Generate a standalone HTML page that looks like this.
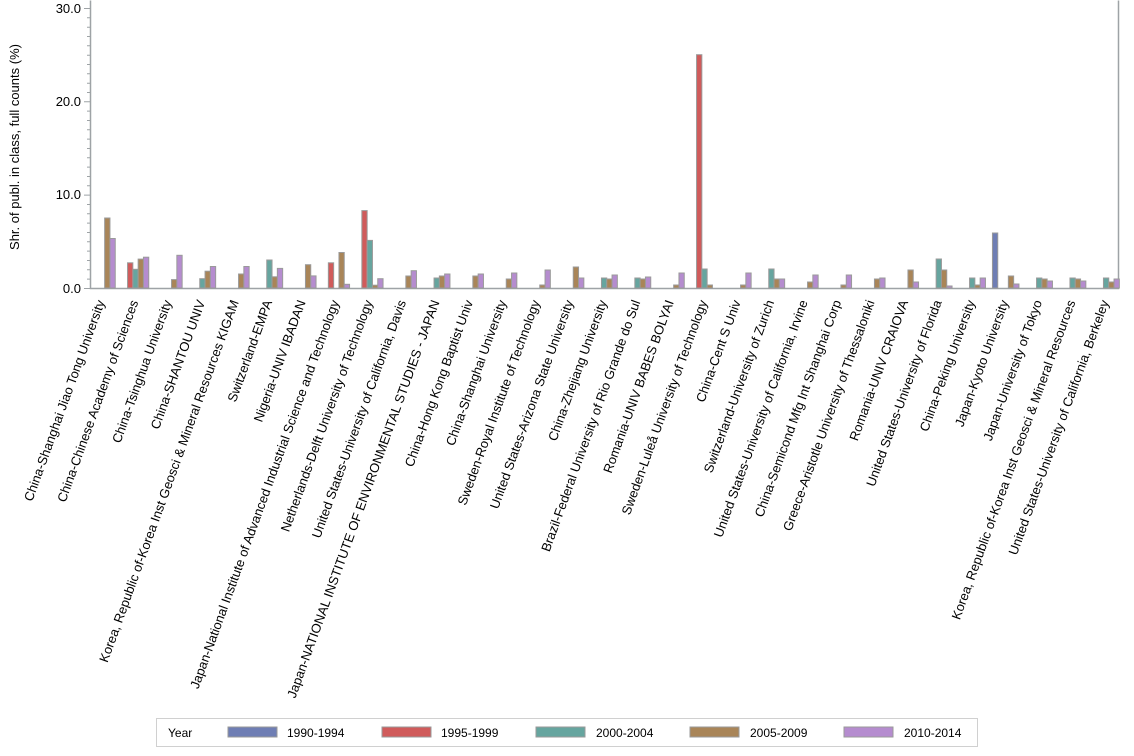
<!DOCTYPE html>
<html><head><meta charset="utf-8"><style>
body{margin:0;background:#fff;}
svg{display:block;font-family:"Liberation Sans",Arial,sans-serif;}
.b{fill:#6f7eb4}.r{fill:#d05b5b}.t{fill:#66a59f}.o{fill:#a98558}.p{fill:#b58ccf}
rect.b,rect.r,rect.t,rect.o,rect.p{stroke:#9a9a9a;stroke-width:1}
.l{font-size:13px;fill:#000;text-anchor:end}
</style></head><body>
<svg width="1134" height="756" viewBox="0 0 1134 756">
<rect x="0" y="0" width="1134" height="756" fill="#fff"/>
<path d="M90.5 0.5V288.5H1118.5V0.5" fill="none" stroke="#9ea3a6" stroke-width="1.5"/>
<g stroke="#9ea3a6" stroke-width="1">
<path d="M84 8.5H90M84 101.8H90M84 195.1H90M84 288.5H90"/>
<path d="M87 17.8H90M87 27.2H90M87 36.5H90M87 45.8H90M87 55.2H90M87 64.5H90M87 73.8H90M87 83.2H90M87 92.5H90M87 111.1H90M87 120.5H90M87 129.8H90M87 139.1H90M87 148.5H90M87 157.8H90M87 167.1H90M87 176.5H90M87 185.8H90M87 204.5H90M87 213.8H90M87 223.1H90M87 232.5H90M87 241.8H90M87 251.1H90M87 260.5H90M87 269.8H90M87 279.1H90"/>
</g>
<g font-size="13" text-anchor="end" fill="#000">
<text x="81" y="13">30.0</text><text x="81" y="106">20.0</text><text x="81" y="199">10.0</text><text x="81" y="293">0.0</text>
</g>
<text transform="translate(19,147) rotate(-90)" font-size="13" text-anchor="middle">Shr. of publ. in class, full counts (%)</text>

<g transform="translate(102,288)"><rect class="o" x="2.65" y="-70" width="5.3" height="70"/><rect class="p" x="7.95" y="-49.5" width="5.3" height="49.5"/></g>
<g transform="translate(135.5,288)"><rect class="r" x="-7.95" y="-25.2" width="5.3" height="25.2"/><rect class="t" x="-2.65" y="-18.7" width="5.3" height="18.7"/><rect class="o" x="2.65" y="-28.9" width="5.3" height="28.9"/><rect class="p" x="7.95" y="-30.8" width="5.3" height="30.8"/></g>
<g transform="translate(168.9,288)"><rect class="o" x="2.65" y="-8.4" width="5.3" height="8.4"/><rect class="p" x="7.95" y="-32.7" width="5.3" height="32.7"/></g>
<g transform="translate(202.4,288)"><rect class="t" x="-2.65" y="-9.3" width="5.3" height="9.3"/><rect class="o" x="2.65" y="-16.8" width="5.3" height="16.8"/><rect class="p" x="7.95" y="-21.5" width="5.3" height="21.5"/></g>
<g transform="translate(235.9,288)"><rect class="o" x="2.65" y="-14" width="5.3" height="14"/><rect class="p" x="7.95" y="-21.5" width="5.3" height="21.5"/></g>
<g transform="translate(269.4,288)"><rect class="t" x="-2.65" y="-28" width="5.3" height="28"/><rect class="o" x="2.65" y="-11.2" width="5.3" height="11.2"/><rect class="p" x="7.95" y="-19.6" width="5.3" height="19.6"/></g>
<g transform="translate(302.8,288)"><rect class="o" x="2.65" y="-23.3" width="5.3" height="23.3"/><rect class="p" x="7.95" y="-12.1" width="5.3" height="12.1"/></g>
<g transform="translate(336.3,288)"><rect class="r" x="-7.95" y="-25.2" width="5.3" height="25.2"/><rect class="o" x="2.65" y="-35.5" width="5.3" height="35.5"/><rect class="p" x="7.95" y="-3.7" width="5.3" height="3.7"/></g>
<g transform="translate(369.8,288)"><rect class="r" x="-7.95" y="-77.4" width="5.3" height="77.4"/><rect class="t" x="-2.65" y="-47.6" width="5.3" height="47.6"/><rect class="o" x="2.65" y="-2.8" width="5.3" height="2.8"/><rect class="p" x="7.95" y="-9.3" width="5.3" height="9.3"/></g>
<g transform="translate(403.2,288)"><rect class="o" x="2.65" y="-12" width="5.3" height="12"/><rect class="p" x="7.95" y="-17.3" width="5.3" height="17.3"/></g>
<g transform="translate(436.7,288)"><rect class="t" x="-2.65" y="-10" width="5.3" height="10"/><rect class="o" x="2.65" y="-12" width="5.3" height="12"/><rect class="p" x="7.95" y="-14" width="5.3" height="14"/></g>
<g transform="translate(470.2,288)"><rect class="o" x="2.65" y="-12" width="5.3" height="12"/><rect class="p" x="7.95" y="-14" width="5.3" height="14"/></g>
<g transform="translate(503.6,288)"><rect class="o" x="2.65" y="-9" width="5.3" height="9"/><rect class="p" x="7.95" y="-15" width="5.3" height="15"/></g>
<g transform="translate(537.1,288)"><rect class="o" x="2.65" y="-3" width="5.3" height="3"/><rect class="p" x="7.95" y="-18" width="5.3" height="18"/></g>
<g transform="translate(570.6,288)"><rect class="o" x="2.65" y="-21" width="5.3" height="21"/><rect class="p" x="7.95" y="-10" width="5.3" height="10"/></g>
<g transform="translate(604.1,288)"><rect class="t" x="-2.65" y="-10" width="5.3" height="10"/><rect class="o" x="2.65" y="-9" width="5.3" height="9"/><rect class="p" x="7.95" y="-13" width="5.3" height="13"/></g>
<g transform="translate(637.5,288)"><rect class="t" x="-2.65" y="-10" width="5.3" height="10"/><rect class="o" x="2.65" y="-9" width="5.3" height="9"/><rect class="p" x="7.95" y="-11" width="5.3" height="11"/></g>
<g transform="translate(671,288)"><rect class="o" x="2.65" y="-3" width="5.3" height="3"/><rect class="p" x="7.95" y="-15" width="5.3" height="15"/></g>
<g transform="translate(704.5,288)"><rect class="r" x="-7.95" y="-233.3" width="5.3" height="233.3"/><rect class="t" x="-2.65" y="-19" width="5.3" height="19"/><rect class="o" x="2.65" y="-3" width="5.3" height="3"/></g>
<g transform="translate(737.9,288)"><rect class="o" x="2.65" y="-3" width="5.3" height="3"/><rect class="p" x="7.95" y="-15" width="5.3" height="15"/></g>
<g transform="translate(771.4,288)"><rect class="t" x="-2.65" y="-19" width="5.3" height="19"/><rect class="o" x="2.65" y="-9" width="5.3" height="9"/><rect class="p" x="7.95" y="-9" width="5.3" height="9"/></g>
<g transform="translate(804.9,288)"><rect class="o" x="2.65" y="-6" width="5.3" height="6"/><rect class="p" x="7.95" y="-13" width="5.3" height="13"/></g>
<g transform="translate(838.3,288)"><rect class="o" x="2.65" y="-3" width="5.3" height="3"/><rect class="p" x="7.95" y="-13" width="5.3" height="13"/></g>
<g transform="translate(871.8,288)"><rect class="o" x="2.65" y="-9" width="5.3" height="9"/><rect class="p" x="7.95" y="-10" width="5.3" height="10"/></g>
<g transform="translate(905.3,288)"><rect class="o" x="2.65" y="-18" width="5.3" height="18"/><rect class="p" x="7.95" y="-6" width="5.3" height="6"/></g>
<g transform="translate(938.8,288)"><rect class="t" x="-2.65" y="-29" width="5.3" height="29"/><rect class="o" x="2.65" y="-18" width="5.3" height="18"/><rect class="p" x="7.95" y="-2" width="5.3" height="2"/></g>
<g transform="translate(972.2,288)"><rect class="t" x="-2.65" y="-10" width="5.3" height="10"/><rect class="o" x="2.65" y="-3" width="5.3" height="3"/><rect class="p" x="7.95" y="-10" width="5.3" height="10"/></g>
<g transform="translate(1005.7,288)"><rect class="b" x="-13.25" y="-55" width="5.3" height="55"/><rect class="o" x="2.65" y="-12" width="5.3" height="12"/><rect class="p" x="7.95" y="-4" width="5.3" height="4"/></g>
<g transform="translate(1039.2,288)"><rect class="t" x="-2.65" y="-10" width="5.3" height="10"/><rect class="o" x="2.65" y="-9" width="5.3" height="9"/><rect class="p" x="7.95" y="-7" width="5.3" height="7"/></g>
<g transform="translate(1072.6,288)"><rect class="t" x="-2.65" y="-10" width="5.3" height="10"/><rect class="o" x="2.65" y="-9" width="5.3" height="9"/><rect class="p" x="7.95" y="-7" width="5.3" height="7"/></g>
<g transform="translate(1106.1,288)"><rect class="t" x="-2.65" y="-10" width="5.3" height="10"/><rect class="o" x="2.65" y="-6" width="5.3" height="6"/><rect class="p" x="7.95" y="-9" width="5.3" height="9"/></g>

<text class="l" transform="translate(105,302) rotate(-70)">China-Shanghai Jiao Tong University</text>
<text class="l" transform="translate(138.5,302) rotate(-70)">China-Chinese Academy of Sciences</text>
<text class="l" transform="translate(171.9,302) rotate(-70)">China-Tsinghua University</text>
<text class="l" transform="translate(205.4,302) rotate(-70)">China-SHANTOU UNIV</text>
<text class="l" transform="translate(238.9,302) rotate(-70)">Korea, Republic of-Korea Inst Geosci &amp; Mineral Resources KIGAM</text>
<text class="l" transform="translate(272.4,302) rotate(-70)">Switzerland-EMPA</text>
<text class="l" transform="translate(305.8,302) rotate(-70)">Nigeria-UNIV IBADAN</text>
<text class="l" transform="translate(339.3,302) rotate(-70)">Japan-National Institute of Advanced Industrial Science and Technology</text>
<text class="l" transform="translate(372.8,302) rotate(-70)">Netherlands-Delft University of Technology</text>
<text class="l" transform="translate(406.2,302) rotate(-70)">United States-University of California, Davis</text>
<text class="l" transform="translate(439.7,302) rotate(-70)">Japan-NATIONAL INSTITUTE OF ENVIRONMENTAL STUDIES - JAPAN</text>
<text class="l" transform="translate(473.2,302) rotate(-70)">China-Hong Kong Baptist Univ</text>
<text class="l" transform="translate(506.6,302) rotate(-70)">China-Shanghai University</text>
<text class="l" transform="translate(540.1,302) rotate(-70)">Sweden-Royal Institute of Technology</text>
<text class="l" transform="translate(573.6,302) rotate(-70)">United States-Arizona State University</text>
<text class="l" transform="translate(607.1,302) rotate(-70)">China-Zhejiang University</text>
<text class="l" transform="translate(640.5,302) rotate(-70)">Brazil-Federal University of Rio Grande do Sul</text>
<text class="l" transform="translate(674,302) rotate(-70)">Romania-UNIV BABES BOLYAI</text>
<text class="l" transform="translate(707.5,302) rotate(-70)">Sweden-Luleå University of Technology</text>
<text class="l" transform="translate(740.9,302) rotate(-70)">China-Cent S Univ</text>
<text class="l" transform="translate(774.4,302) rotate(-70)">Switzerland-University of Zurich</text>
<text class="l" transform="translate(807.9,302) rotate(-70)">United States-University of California, Irvine</text>
<text class="l" transform="translate(841.3,302) rotate(-70)">China-Semicond Mfg Int Shanghai Corp</text>
<text class="l" transform="translate(874.8,302) rotate(-70)">Greece-Aristotle University of Thessaloniki</text>
<text class="l" transform="translate(908.3,302) rotate(-70)">Romania-UNIV CRAIOVA</text>
<text class="l" transform="translate(941.8,302) rotate(-70)">United States-University of Florida</text>
<text class="l" transform="translate(975.2,302) rotate(-70)">China-Peking University</text>
<text class="l" transform="translate(1008.7,302) rotate(-70)">Japan-Kyoto University</text>
<text class="l" transform="translate(1042.2,302) rotate(-70)">Japan-University of Tokyo</text>
<text class="l" transform="translate(1075.6,302) rotate(-70)">Korea, Republic of-Korea Inst Geosci &amp; Mineral Resources</text>
<text class="l" transform="translate(1109.1,302) rotate(-70)">United States-University of California, Berkeley</text>

<rect x="156.5" y="718.5" width="821" height="28" fill="#fff" stroke="#d0d0d0"/>
<g font-size="12" fill="#000">
<text x="168" y="737">Year</text>
<rect class="b" x="228" y="727" width="49" height="10" stroke="#9a9a9a"/><text x="287" y="737">1990-1994</text>
<rect class="r" x="382" y="727" width="49" height="10" stroke="#9a9a9a"/><text x="441" y="737">1995-1999</text>
<rect class="t" x="536" y="727" width="49" height="10" stroke="#9a9a9a"/><text x="596" y="737">2000-2004</text>
<rect class="o" x="690" y="727" width="49" height="10" stroke="#9a9a9a"/><text x="750" y="737">2005-2009</text>
<rect class="p" x="844" y="727" width="49" height="10" stroke="#9a9a9a"/><text x="904" y="737">2010-2014</text>
</g>
</svg>
</body></html>
